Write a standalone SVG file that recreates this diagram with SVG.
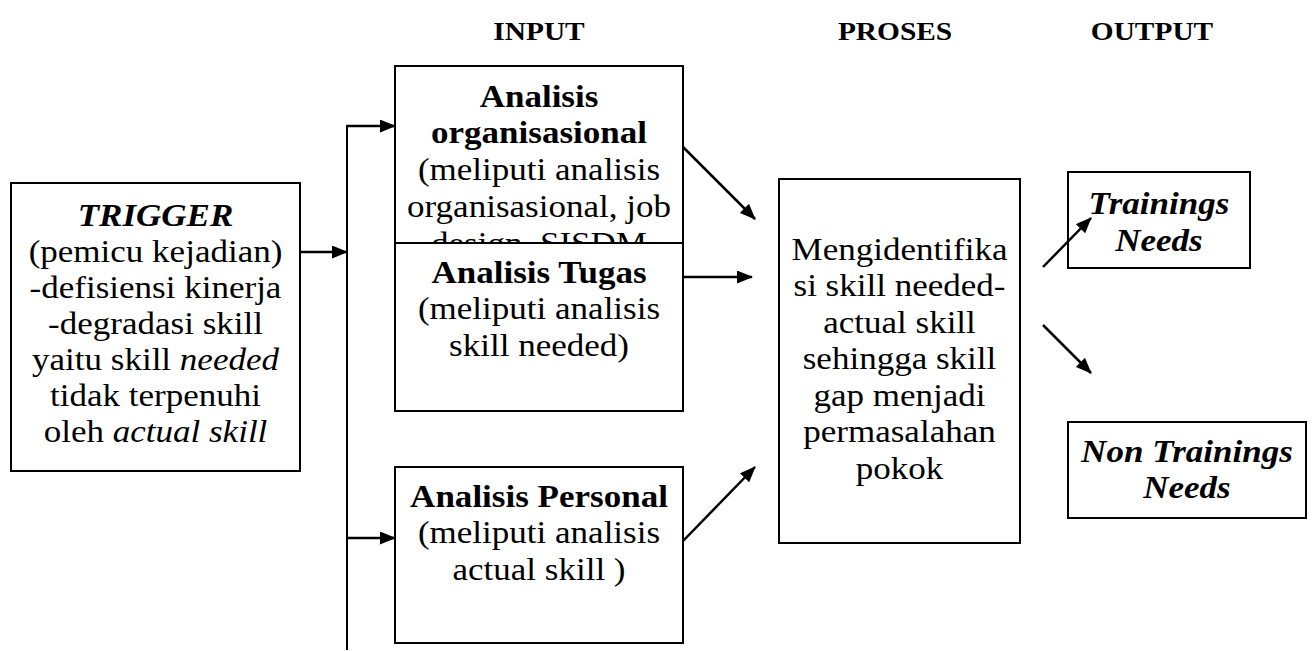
<svg xmlns="http://www.w3.org/2000/svg" width="1314" height="651" viewBox="0 0 1314 651">
  <style>
    text { font-family: "Liberation Serif", "Times New Roman", serif; font-size: 31px; fill: #000; text-anchor: middle; }
    .hd { font-size: 26px; font-weight: bold; }
    .b { font-weight: bold; }
    .bi { font-weight: bold; font-style: italic; }
    .i { font-style: italic; }
    .box { fill: #fff; stroke: #000; stroke-width: 2; }
    .wire { fill: none; stroke: #000; stroke-width: 2; }
    .arr { fill: none; stroke: #000; stroke-width: 2.5; marker-end: url(#head); }
  </style>
  <defs>
    <marker id="head" markerUnits="userSpaceOnUse" markerWidth="16" markerHeight="13" refX="15" refY="6.5" orient="auto">
      <path d="M0,0 L16,6.5 L0,13 z" fill="#000"/>
    </marker>
  </defs>
  <rect width="1314" height="651" fill="#fff"/>

  <!-- column headings (type is set slightly wide) -->
  <g id="headings">
    <g transform="translate(539 0) scale(1.13 1)"><text class="hd" x="0" y="40">INPUT</text></g>
    <g transform="translate(895 0) scale(1.13 1)"><text class="hd" x="0" y="40">PROSES</text></g>
    <g transform="translate(1152 0) scale(1.13 1)"><text class="hd" x="0" y="40">OUTPUT</text></g>
  </g>

  <g id="trigger">
    <rect class="box" x="11" y="183" width="289" height="288"/>
    <g transform="translate(155.5 0) scale(1.13 1)">
      <text x="0" y="226" class="bi">TRIGGER</text>
      <text x="0" y="262">(pemicu kejadian)</text>
      <text x="0" y="298">-defisiensi kinerja</text>
      <text x="0" y="334">-degradasi skill</text>
      <text x="0" y="370">yaitu skill <tspan class="i">needed</tspan></text>
      <text x="0" y="406">tidak terpenuhi</text>
      <text x="0" y="442">oleh <tspan class="i">actual skill</tspan></text>
    </g>
  </g>

  <g id="analisis-organisasional">
    <rect class="box" x="395" y="66" width="288" height="200"/>
    <g transform="translate(539 0) scale(1.13 1)">
      <text x="0" y="107" class="b">Analisis</text>
      <text x="0" y="143" class="b">organisasional</text>
      <text x="0" y="180">(meliputi analisis</text>
      <text x="0" y="217">organisasional, job</text>
      <text x="0" y="254">design, SISDM</text>
    </g>
  </g>

  <g id="analisis-tugas">
    <rect class="box" x="395" y="243" width="288" height="168"/>
    <g transform="translate(539 0) scale(1.13 1)">
      <text x="0" y="283" class="b">Analisis Tugas</text>
      <text x="0" y="319">(meliputi analisis</text>
      <text x="0" y="356">skill needed)</text>
    </g>
  </g>

  <g id="analisis-personal">
    <rect class="box" x="395" y="467" width="288" height="176"/>
    <g transform="translate(539 0) scale(1.13 1)">
      <text x="0" y="507" class="b">Analisis Personal</text>
      <text x="0" y="543">(meliputi analisis</text>
      <text x="0" y="580">actual skill )</text>
    </g>
  </g>

  <g id="proses">
    <rect class="box" x="779" y="179" width="241" height="364"/>
    <g transform="translate(899.5 0) scale(1.13 1)">
      <text x="0" y="260">Mengidentifika</text>
      <text x="0" y="296.5">si skill needed-</text>
      <text x="0" y="333">actual skill</text>
      <text x="0" y="369.5">sehingga skill</text>
      <text x="0" y="406">gap menjadi</text>
      <text x="0" y="442.5">permasalahan</text>
      <text x="0" y="479">pokok</text>
    </g>
  </g>

  <g id="trainings-needs">
    <rect class="box" x="1068" y="172" width="182" height="96"/>
    <g transform="translate(1159 0) scale(1.13 1)">
      <text x="0" y="214" class="bi">Trainings</text>
      <text x="0" y="251" class="bi">Needs</text>
    </g>
  </g>

  <g id="non-trainings-needs">
    <rect class="box" x="1068" y="422" width="238" height="96"/>
    <g transform="translate(1187 0) scale(1.13 1)">
      <text x="0" y="462" class="bi">Non Trainings</text>
      <text x="0" y="498" class="bi">Needs</text>
    </g>
  </g>

  <g id="connectors">
    <line class="wire" x1="347" y1="125" x2="347" y2="650"/>
    <line class="arr" x1="300" y1="252" x2="347" y2="252"/>
    <line class="arr" x1="346" y1="126" x2="395" y2="126"/>
    <line class="arr" x1="348" y1="538" x2="395" y2="538"/>
    <line class="arr" x1="683" y1="147" x2="755" y2="219"/>
    <line class="arr" x1="683" y1="277" x2="752" y2="277"/>
    <line class="arr" x1="683" y1="541" x2="755" y2="467"/>
    <line class="arr" x1="1043" y1="267" x2="1091" y2="218"/>
    <line class="arr" x1="1043" y1="325" x2="1091" y2="373"/>
  </g>
</svg>
